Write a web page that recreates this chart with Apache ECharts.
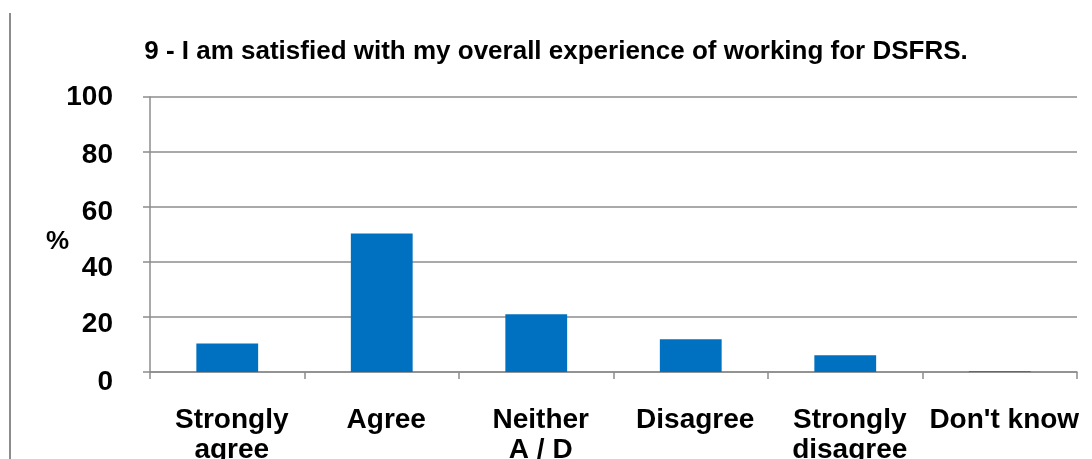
<!DOCTYPE html>
<html>
<head>
<meta charset="utf-8">
<script src="https://cdn.jsdelivr.net/npm/echarts@6/dist/echarts.min.js"></script>
<style>
  html, body { margin: 0; padding: 0; background: #fff; }
  #chart { width: 1092px; height: 459px; }
</style>
</head>
<body>
<div id="chart"></div>
<script>
// Survey question 9 – share of responses (%)
const titleText = '9 - I am satisfied with my overall experience of working for DSFRS.';
const categories = ['Strongly\nagree', 'Agree', 'Neither\nA / D', 'Disagree', 'Strongly\ndisagree', "Don't know"];
const percentages = [10.4, 50.4, 21.0, 11.9, 6.1, 0.3];
const yTicks = [0, 20, 40, 60, 80, 100];

const FONT = '"Liberation Sans", Arial, sans-serif';
const GRID = '#8c8c8c';

// small downward nudge per y label, in px
const labelNudge = { 0: 10, 20: 7, 40: 6, 60: 5, 80: 3, 100: 0 };
const yRich = {};
yTicks.forEach(v => {
  yRich['t' + v] = {
    fontFamily: FONT, fontWeight: 'bold', fontSize: 28, color: '#000',
    padding: [labelNudge[v] * 2, 0, 0, 0]
  };
});

const chart = echarts.init(document.getElementById('chart'), null, { renderer: 'canvas' });
chart.setOption({
  animation: false,
  backgroundColor: '#fff',
  title: {
    text: titleText,
    left: 551, top: 34, textAlign: 'center',
    textStyle: { fontFamily: FONT, fontWeight: 'bold', fontSize: 26, color: '#000' }
  },
  grid: { left: 150, right: 15, top: 97, bottom: 87, containLabel: false, outerBoundsMode: 'none' },
  graphic: [
    { type: 'line', shape: { x1: 10, y1: 13, x2: 10, y2: 459 }, style: { stroke: '#8c8c8c', lineWidth: 2 } },
    { type: 'text', left: 46, top: 229, style: { text: '%', font: 'bold 26px ' + FONT, fill: '#000' } }
  ],
  xAxis: {
    type: 'category',
    data: categories,
    axisLine: { lineStyle: { color: GRID, width: 1.5 } },
    axisTick: { show: true, length: 7, lineStyle: { color: GRID, width: 1.5 } },
    axisLabel: {
      interval: 0, margin: 33, padding: [0, 0, 0, 9],
      fontFamily: FONT, fontWeight: 'bold', fontSize: 28, color: '#000', lineHeight: 30
    }
  },
  yAxis: {
    type: 'value', min: 0, max: 100, interval: 20,
    axisLine: { show: true, lineStyle: { color: GRID, width: 1.5 } },
    axisTick: { show: true, length: 7, lineStyle: { color: GRID, width: 1.5 } },
    splitLine: { lineStyle: { color: GRID, width: 1.5 } },
    axisLabel: {
      margin: 37,
      formatter: v => '{t' + v + '|' + v + '}',
      rich: yRich
    }
  },
  series: [{
    type: 'bar',
    data: percentages,
    barWidth: '40%',
    itemStyle: { color: '#0070C0' }
  }]
});
</script>
</body>
</html>
